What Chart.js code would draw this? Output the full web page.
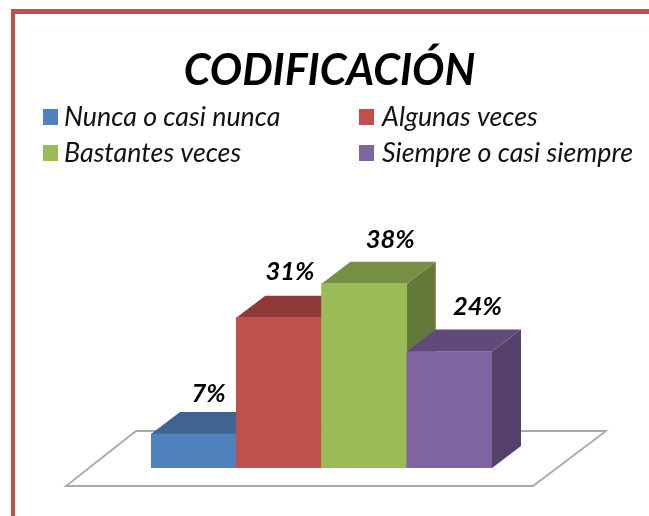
<!DOCTYPE html>
<html><head><meta charset="utf-8">
<style>html,body{margin:0;padding:0;background:#fff}#w{position:relative;width:649px;height:516px}canvas{display:block;filter:blur(0.4px)}</style>
<script src="https://cdn.jsdelivr.net/npm/chart.js@4"></script>
</head><body><div id="w"><canvas id="c" width="649" height="516"></canvas></div>
<script>
const titleText = 'CODIFICACIÓN';
const categories = ['Nunca o casi nunca','Algunas veces','Bastantes veces','Siempre o casi siempre'];
const values = [7,31,38,24];
const frontColors = ['#4F81BD','#C0504D','#9BBB59','#8064A2'];
const topColors = ['#3F6490','#8F3A38','#778F45','#614A7B'];
const sideColors = ['#34527A','#7A3230','#63793A','#553F6B'];
const labelOffsets = [[15,-40],[11,-46],[26,-44],[28,-45]];
const legendSlots = [[43,117],[359,117],[43,153],[359,153]];
const DEPTH_X = 29, DEPTH_Y = 22;
const FONT = 'Lato, Carlito, sans-serif';

const scene = {
  id:'scene',
  beforeDatasetsDraw(chart){
    const {ctx,chartArea:a,width,height} = chart;
    ctx.save();
    ctx.fillStyle='#C0504D';
    ctx.fillRect(11,9,width-11,5);
    ctx.fillRect(11,9,4,height-9);
    // floor
    ctx.beginPath();
    ctx.moveTo(a.left-85,a.bottom+18);ctx.lineTo(a.right+41,a.bottom+18);
    ctx.lineTo(a.right+114,a.bottom-37);ctx.lineTo(a.left-15,a.bottom-37);ctx.closePath();
    ctx.fillStyle='#fff';ctx.fill();
    ctx.strokeStyle='#A9A9A9';ctx.lineWidth=1.8;ctx.stroke();
    // 3D faces
    chart.getDatasetMeta(0).data.forEach((b,i)=>{
      const l=b.x-b.width/2,r=b.x+b.width/2,t=b.y,bot=b.base;
      ctx.fillStyle=sideColors[i];
      ctx.beginPath();ctx.moveTo(r,t);ctx.lineTo(r+DEPTH_X,t-DEPTH_Y);ctx.lineTo(r+DEPTH_X,bot-DEPTH_Y);ctx.lineTo(r,bot);ctx.closePath();ctx.fill();
      ctx.fillStyle=topColors[i];
      ctx.beginPath();ctx.moveTo(l,t);ctx.lineTo(l+DEPTH_X,t-DEPTH_Y);ctx.lineTo(r+DEPTH_X,t-DEPTH_Y);ctx.lineTo(r,t);ctx.closePath();ctx.fill();
    });
    ctx.restore();
  },
  afterDatasetsDraw(chart){
    const {ctx} = chart;
    ctx.save();
    ctx.textBaseline='middle';
    ctx.fillStyle='#000';
    ctx.textAlign='center';
    ctx.font='italic bold 25.5px '+FONT;
    chart.getDatasetMeta(0).data.forEach((b,i)=>{
      ctx.fillText(values[i]+'%',b.x+labelOffsets[i][0],b.y+labelOffsets[i][1]);
    });
    ctx.textAlign='left';
    categories.forEach((c,i)=>{
      const [x,y]=legendSlots[i];
      ctx.fillStyle=frontColors[i];
      ctx.fillRect(x,y-8,15,16);
      ctx.fillStyle='#111';
      ctx.font='italic 26.8px '+FONT;
      ctx.fillText(c,x+(i%2?23:21),y);
    });
    ctx.restore();
  },
  beforeDraw(chart){
    const t=chart.titleBlock; if(t&&!t._shifted){t.left+=8;t.right+=8;t._shifted=true;}
  }
};

new Chart(document.getElementById('c'),{
  type:'bar',
  data:{labels:categories,datasets:[{data:values,backgroundColor:frontColors,borderWidth:0,barPercentage:1,categoryPercentage:1}]},
  options:{
    responsive:false,animation:false,
    layout:{padding:{left:151,right:157,top:0,bottom:48}},
    scales:{x:{display:false},y:{display:false,min:0,max:40}},
    plugins:{
      legend:{display:false},tooltip:{enabled:false},
      title:{display:true,text:titleText,color:'#000',font:{family:FONT,size:43,weight:'bold',style:'italic'},padding:{top:45,bottom:177.4}}
    }
  },
  plugins:[scene]
});
</script></body></html>
